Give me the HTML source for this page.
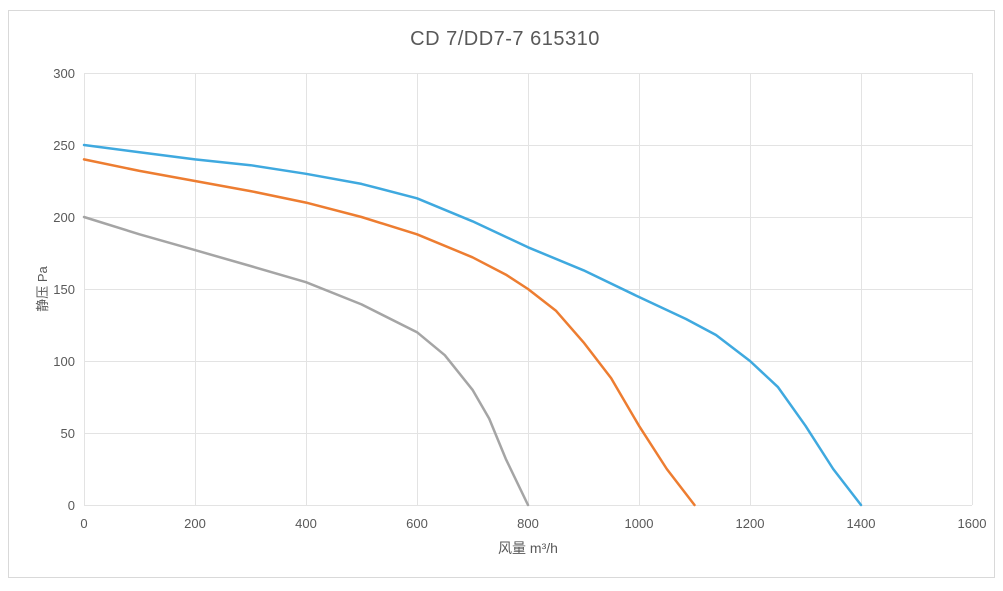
<!DOCTYPE html>
<html><head><meta charset="utf-8"><style>
html,body{margin:0;padding:0;background:#fff;}
svg text{font-family:"Liberation Sans","Noto Sans CJK SC",sans-serif;fill:#595959;}
</style></head><body>
<svg width="1003" height="586" viewBox="0 0 1003 586" xmlns="http://www.w3.org/2000/svg">
<rect x="8.5" y="10.5" width="986" height="567" fill="#fff" stroke="#d9d9d9"/>
<text x="505" y="45" font-size="20" text-anchor="middle" letter-spacing="0.5">CD 7/DD7-7 615310</text>
<g stroke="#e3e3e3" stroke-width="1">
<line x1="84" y1="73.5" x2="972" y2="73.5"/>
<line x1="84" y1="145.5" x2="972" y2="145.5"/>
<line x1="84" y1="217.5" x2="972" y2="217.5"/>
<line x1="84" y1="289.5" x2="972" y2="289.5"/>
<line x1="84" y1="361.5" x2="972" y2="361.5"/>
<line x1="84" y1="433.5" x2="972" y2="433.5"/>
<line x1="84" y1="505.5" x2="972" y2="505.5"/>
<line x1="84.5" y1="73" x2="84.5" y2="505"/>
<line x1="195.5" y1="73" x2="195.5" y2="505"/>
<line x1="306.5" y1="73" x2="306.5" y2="505"/>
<line x1="417.5" y1="73" x2="417.5" y2="505"/>
<line x1="528.5" y1="73" x2="528.5" y2="505"/>
<line x1="639.5" y1="73" x2="639.5" y2="505"/>
<line x1="750.5" y1="73" x2="750.5" y2="505"/>
<line x1="861.5" y1="73" x2="861.5" y2="505"/>
<line x1="972.5" y1="73" x2="972.5" y2="505"/>
</g>
<g font-size="13" text-anchor="end">
<text x="75" y="78">300</text><text x="75" y="150">250</text><text x="75" y="222">200</text>
<text x="75" y="294">150</text><text x="75" y="366">100</text><text x="75" y="438">50</text><text x="75" y="510">0</text>
</g>
<g font-size="13" text-anchor="middle">
<text x="84" y="528">0</text><text x="195" y="528">200</text><text x="306" y="528">400</text>
<text x="417" y="528">600</text><text x="528" y="528">800</text><text x="639" y="528">1000</text>
<text x="750" y="528">1200</text><text x="861" y="528">1400</text><text x="972" y="528">1600</text>
</g>
<text x="528" y="553" font-size="14" text-anchor="middle">风量 m³/h</text>
<text transform="translate(47,289) rotate(-90)" font-size="13" text-anchor="middle">静压 Pa</text>
<g fill="none" stroke-width="2.5" stroke-linejoin="round" stroke-linecap="round">
<polyline stroke="#a5a5a5" points="84,217 139.5,234.3 195,250.1 250.5,266 306,282.2 361.5,304.4 417,332.2 444.8,355.2 472.5,389.8 489.2,418.6 505.8,458.9 528,505"/>
<polyline stroke="#ed7d31" points="84,159.4 139.5,170.9 195,181 250.5,191.1 306,202.6 361.5,217 417,234.3 472.5,257.3 505.8,274.6 528,289 555.8,310.6 583.5,342.3 611.2,378.3 639,425.8 666.8,469 694.5,505"/>
<polyline stroke="#3fa9df" points="84,145 139.5,152.2 195,159.4 250.5,165.2 306,173.8 361.5,183.9 417,198.3 472.5,221.3 528,247.3 583.5,270.3 639,297 686,319 716,335 750,361 777.8,386.9 805.5,425.8 833.2,469 861,505"/>
</g>
</svg>
</body></html>
